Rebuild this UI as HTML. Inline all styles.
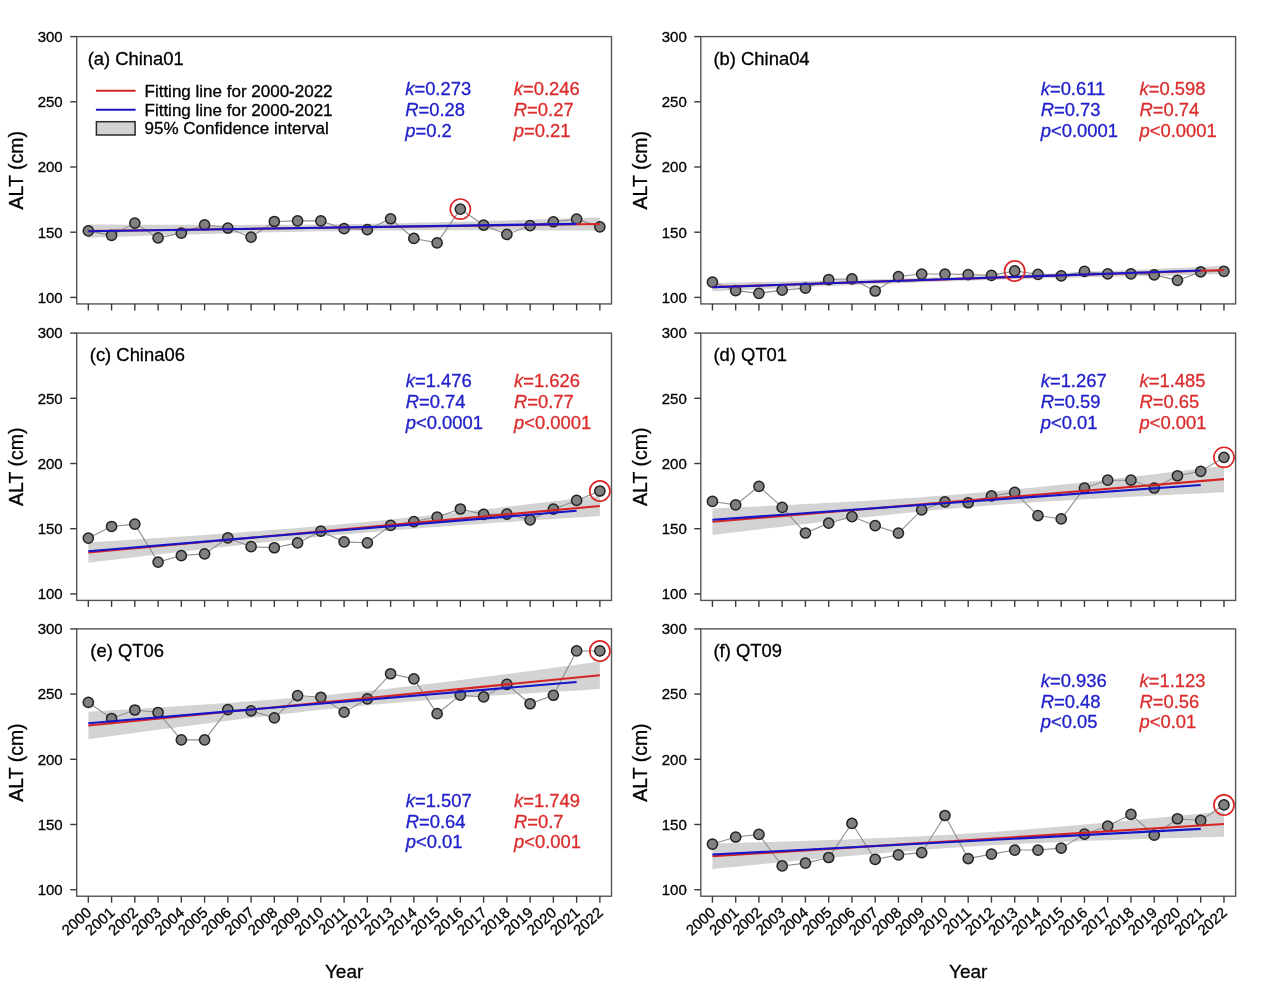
<!DOCTYPE html>
<html><head><meta charset="utf-8"><style>html,body{margin:0;padding:0;background:#fff;width:1269px;height:988px;overflow:hidden}</style></head><body>
<svg width="1269" height="988" viewBox="0 0 1269 988" style="display:block;will-change:transform">
<rect width="1269" height="988" fill="#ffffff"/>
<polygon points="88.33,224.48 99.95,224.54 111.58,224.59 123.20,224.64 134.83,224.69 146.46,224.74 158.08,224.78 169.71,224.81 181.33,224.84 192.96,224.87 204.59,224.88 216.21,224.89 227.84,224.89 239.47,224.88 251.09,224.86 262.72,224.83 274.34,224.78 285.97,224.72 297.60,224.64 309.22,224.55 320.85,224.44 332.47,224.31 344.10,224.16 355.73,223.99 367.35,223.80 378.98,223.60 390.60,223.37 402.23,223.13 413.86,222.87 425.48,222.60 437.11,222.31 448.73,222.02 460.36,221.71 471.99,221.39 483.61,221.06 495.24,220.73 506.87,220.39 518.49,220.04 530.12,219.68 541.74,219.32 553.37,218.96 565.00,218.59 576.62,218.22 588.25,217.85 599.87,217.47 599.87,230.65 588.25,230.59 576.62,230.53 565.00,230.48 553.37,230.43 541.74,230.39 530.12,230.35 518.49,230.31 506.87,230.28 495.24,230.26 483.61,230.24 471.99,230.23 460.36,230.23 448.73,230.24 437.11,230.26 425.48,230.30 413.86,230.34 402.23,230.40 390.60,230.48 378.98,230.57 367.35,230.69 355.73,230.82 344.10,230.97 332.47,231.13 320.85,231.32 309.22,231.53 297.60,231.75 285.97,232.00 274.34,232.25 262.72,232.52 251.09,232.81 239.47,233.11 227.84,233.42 216.21,233.73 204.59,234.06 192.96,234.40 181.33,234.74 169.71,235.09 158.08,235.44 146.46,235.80 134.83,236.16 123.20,236.53 111.58,236.90 99.95,237.28 88.33,237.66" fill="#d3d3d3"/>
<polyline points="88.33,230.90 111.58,235.33 134.83,223.07 158.08,237.94 181.33,233.11 204.59,224.77 227.84,228.03 251.09,237.16 274.34,221.51 297.60,220.86 320.85,220.86 344.10,228.68 367.35,229.72 390.60,218.77 413.86,238.46 437.11,242.89 460.36,209.12 483.61,225.03 506.87,234.42 530.12,225.55 553.37,221.77 576.62,219.16 599.87,226.85" fill="none" stroke="#8e8e8e" stroke-width="1.1"/>
<circle cx="88.33" cy="230.90" r="5.1" fill="#808080" stroke="#222222" stroke-width="1.5"/>
<circle cx="111.58" cy="235.33" r="5.1" fill="#808080" stroke="#222222" stroke-width="1.5"/>
<circle cx="134.83" cy="223.07" r="5.1" fill="#808080" stroke="#222222" stroke-width="1.5"/>
<circle cx="158.08" cy="237.94" r="5.1" fill="#808080" stroke="#222222" stroke-width="1.5"/>
<circle cx="181.33" cy="233.11" r="5.1" fill="#808080" stroke="#222222" stroke-width="1.5"/>
<circle cx="204.59" cy="224.77" r="5.1" fill="#808080" stroke="#222222" stroke-width="1.5"/>
<circle cx="227.84" cy="228.03" r="5.1" fill="#808080" stroke="#222222" stroke-width="1.5"/>
<circle cx="251.09" cy="237.16" r="5.1" fill="#808080" stroke="#222222" stroke-width="1.5"/>
<circle cx="274.34" cy="221.51" r="5.1" fill="#808080" stroke="#222222" stroke-width="1.5"/>
<circle cx="297.60" cy="220.86" r="5.1" fill="#808080" stroke="#222222" stroke-width="1.5"/>
<circle cx="320.85" cy="220.86" r="5.1" fill="#808080" stroke="#222222" stroke-width="1.5"/>
<circle cx="344.10" cy="228.68" r="5.1" fill="#808080" stroke="#222222" stroke-width="1.5"/>
<circle cx="367.35" cy="229.72" r="5.1" fill="#808080" stroke="#222222" stroke-width="1.5"/>
<circle cx="390.60" cy="218.77" r="5.1" fill="#808080" stroke="#222222" stroke-width="1.5"/>
<circle cx="413.86" cy="238.46" r="5.1" fill="#808080" stroke="#222222" stroke-width="1.5"/>
<circle cx="437.11" cy="242.89" r="5.1" fill="#808080" stroke="#222222" stroke-width="1.5"/>
<circle cx="460.36" cy="209.12" r="5.1" fill="#808080" stroke="#222222" stroke-width="1.5"/>
<circle cx="483.61" cy="225.03" r="5.1" fill="#808080" stroke="#222222" stroke-width="1.5"/>
<circle cx="506.87" cy="234.42" r="5.1" fill="#808080" stroke="#222222" stroke-width="1.5"/>
<circle cx="530.12" cy="225.55" r="5.1" fill="#808080" stroke="#222222" stroke-width="1.5"/>
<circle cx="553.37" cy="221.77" r="5.1" fill="#808080" stroke="#222222" stroke-width="1.5"/>
<circle cx="576.62" cy="219.16" r="5.1" fill="#808080" stroke="#222222" stroke-width="1.5"/>
<circle cx="599.87" cy="226.85" r="5.1" fill="#808080" stroke="#222222" stroke-width="1.5"/>
<line x1="88.33" y1="231.07" x2="599.87" y2="224.06" stroke="#d42424" stroke-width="2.1"/>
<line x1="88.33" y1="231.32" x2="576.62" y2="223.87" stroke="#1616c8" stroke-width="2.1"/>
<circle cx="460.36" cy="209.12" r="10.1" fill="none" stroke="#dc2828" stroke-width="1.7"/>
<rect x="76.70" y="36.60" width="534.80" height="267.32" fill="none" stroke="#555555" stroke-width="1.4"/>
<line x1="70.20" y1="297.40" x2="76.70" y2="297.40" stroke="#3a3a3a" stroke-width="1.4"/>
<text x="62.70" y="302.75" font-family="Liberation Sans, sans-serif" stroke-width="0.3" font-size="15" text-anchor="end" fill="#000" stroke="#000">100</text>
<line x1="70.20" y1="232.20" x2="76.70" y2="232.20" stroke="#3a3a3a" stroke-width="1.4"/>
<text x="62.70" y="237.55" font-family="Liberation Sans, sans-serif" stroke-width="0.3" font-size="15" text-anchor="end" fill="#000" stroke="#000">150</text>
<line x1="70.20" y1="167.00" x2="76.70" y2="167.00" stroke="#3a3a3a" stroke-width="1.4"/>
<text x="62.70" y="172.35" font-family="Liberation Sans, sans-serif" stroke-width="0.3" font-size="15" text-anchor="end" fill="#000" stroke="#000">200</text>
<line x1="70.20" y1="101.80" x2="76.70" y2="101.80" stroke="#3a3a3a" stroke-width="1.4"/>
<text x="62.70" y="107.15" font-family="Liberation Sans, sans-serif" stroke-width="0.3" font-size="15" text-anchor="end" fill="#000" stroke="#000">250</text>
<line x1="70.20" y1="36.60" x2="76.70" y2="36.60" stroke="#3a3a3a" stroke-width="1.4"/>
<text x="62.70" y="41.95" font-family="Liberation Sans, sans-serif" stroke-width="0.3" font-size="15" text-anchor="end" fill="#000" stroke="#000">300</text>
<line x1="88.33" y1="303.92" x2="88.33" y2="310.42" stroke="#3a3a3a" stroke-width="1.4"/>
<line x1="111.58" y1="303.92" x2="111.58" y2="310.42" stroke="#3a3a3a" stroke-width="1.4"/>
<line x1="134.83" y1="303.92" x2="134.83" y2="310.42" stroke="#3a3a3a" stroke-width="1.4"/>
<line x1="158.08" y1="303.92" x2="158.08" y2="310.42" stroke="#3a3a3a" stroke-width="1.4"/>
<line x1="181.33" y1="303.92" x2="181.33" y2="310.42" stroke="#3a3a3a" stroke-width="1.4"/>
<line x1="204.59" y1="303.92" x2="204.59" y2="310.42" stroke="#3a3a3a" stroke-width="1.4"/>
<line x1="227.84" y1="303.92" x2="227.84" y2="310.42" stroke="#3a3a3a" stroke-width="1.4"/>
<line x1="251.09" y1="303.92" x2="251.09" y2="310.42" stroke="#3a3a3a" stroke-width="1.4"/>
<line x1="274.34" y1="303.92" x2="274.34" y2="310.42" stroke="#3a3a3a" stroke-width="1.4"/>
<line x1="297.60" y1="303.92" x2="297.60" y2="310.42" stroke="#3a3a3a" stroke-width="1.4"/>
<line x1="320.85" y1="303.92" x2="320.85" y2="310.42" stroke="#3a3a3a" stroke-width="1.4"/>
<line x1="344.10" y1="303.92" x2="344.10" y2="310.42" stroke="#3a3a3a" stroke-width="1.4"/>
<line x1="367.35" y1="303.92" x2="367.35" y2="310.42" stroke="#3a3a3a" stroke-width="1.4"/>
<line x1="390.60" y1="303.92" x2="390.60" y2="310.42" stroke="#3a3a3a" stroke-width="1.4"/>
<line x1="413.86" y1="303.92" x2="413.86" y2="310.42" stroke="#3a3a3a" stroke-width="1.4"/>
<line x1="437.11" y1="303.92" x2="437.11" y2="310.42" stroke="#3a3a3a" stroke-width="1.4"/>
<line x1="460.36" y1="303.92" x2="460.36" y2="310.42" stroke="#3a3a3a" stroke-width="1.4"/>
<line x1="483.61" y1="303.92" x2="483.61" y2="310.42" stroke="#3a3a3a" stroke-width="1.4"/>
<line x1="506.87" y1="303.92" x2="506.87" y2="310.42" stroke="#3a3a3a" stroke-width="1.4"/>
<line x1="530.12" y1="303.92" x2="530.12" y2="310.42" stroke="#3a3a3a" stroke-width="1.4"/>
<line x1="553.37" y1="303.92" x2="553.37" y2="310.42" stroke="#3a3a3a" stroke-width="1.4"/>
<line x1="576.62" y1="303.92" x2="576.62" y2="310.42" stroke="#3a3a3a" stroke-width="1.4"/>
<line x1="599.87" y1="303.92" x2="599.87" y2="310.42" stroke="#3a3a3a" stroke-width="1.4"/>
<text x="87.70" y="64.80" font-family="Liberation Sans, sans-serif" stroke-width="0.3" font-size="18.4" fill="#000" stroke="#000">(a) China01</text>
<text transform="translate(22.80,170.26) rotate(-90)" font-family="Liberation Sans, sans-serif" stroke-width="0.3" font-size="19.5" text-anchor="middle" fill="#000" stroke="#000">ALT (cm)</text>
<text x="405.20" y="95.10" font-family="Liberation Sans, sans-serif" stroke-width="0.3" font-size="18.4" fill="#2020cc" stroke="#2020cc"><tspan font-style="italic">k</tspan>=0.273</text>
<text x="405.20" y="116.00" font-family="Liberation Sans, sans-serif" stroke-width="0.3" font-size="18.4" fill="#2020cc" stroke="#2020cc"><tspan font-style="italic">R</tspan>=0.28</text>
<text x="405.20" y="136.70" font-family="Liberation Sans, sans-serif" stroke-width="0.3" font-size="18.4" fill="#2020cc" stroke="#2020cc"><tspan font-style="italic">p</tspan>=0.2</text>
<text x="513.80" y="95.10" font-family="Liberation Sans, sans-serif" stroke-width="0.3" font-size="18.4" fill="#dc2c2c" stroke="#dc2c2c"><tspan font-style="italic">k</tspan>=0.246</text>
<text x="513.80" y="116.00" font-family="Liberation Sans, sans-serif" stroke-width="0.3" font-size="18.4" fill="#dc2c2c" stroke="#dc2c2c"><tspan font-style="italic">R</tspan>=0.27</text>
<text x="513.80" y="136.70" font-family="Liberation Sans, sans-serif" stroke-width="0.3" font-size="18.4" fill="#dc2c2c" stroke="#dc2c2c"><tspan font-style="italic">p</tspan>=0.21</text>
<polygon points="712.43,283.02 724.05,282.77 735.68,282.51 747.30,282.26 758.93,282.00 770.56,281.73 782.18,281.47 793.81,281.20 805.43,280.93 817.06,280.65 828.69,280.37 840.31,280.09 851.94,279.80 863.57,279.50 875.19,279.20 886.82,278.89 898.44,278.57 910.07,278.24 921.70,277.90 933.32,277.55 944.95,277.19 956.57,276.82 968.20,276.44 979.83,276.04 991.45,275.63 1003.08,275.21 1014.70,274.78 1026.33,274.34 1037.96,273.89 1049.58,273.43 1061.21,272.96 1072.83,272.49 1084.46,272.00 1096.09,271.51 1107.71,271.02 1119.34,270.52 1130.97,270.01 1142.59,269.51 1154.22,268.99 1165.84,268.48 1177.47,267.96 1189.10,267.44 1200.72,266.92 1212.35,266.39 1223.97,265.87 1223.97,274.11 1212.35,274.36 1200.72,274.62 1189.10,274.88 1177.47,275.14 1165.84,275.40 1154.22,275.66 1142.59,275.93 1130.97,276.20 1119.34,276.48 1107.71,276.76 1096.09,277.04 1084.46,277.33 1072.83,277.63 1061.21,277.93 1049.58,278.24 1037.96,278.56 1026.33,278.89 1014.70,279.23 1003.08,279.58 991.45,279.94 979.83,280.31 968.20,280.69 956.57,281.09 944.95,281.50 933.32,281.92 921.70,282.35 910.07,282.79 898.44,283.24 886.82,283.70 875.19,284.17 863.57,284.65 851.94,285.13 840.31,285.62 828.69,286.11 817.06,286.61 805.43,287.12 793.81,287.63 782.18,288.14 770.56,288.65 758.93,289.17 747.30,289.69 735.68,290.21 724.05,290.74 712.43,291.26" fill="#d3d3d3"/>
<polyline points="712.43,282.14 735.68,290.62 758.93,293.36 782.18,290.10 805.43,288.14 828.69,279.54 851.94,278.88 875.19,291.01 898.44,276.54 921.70,274.06 944.95,274.06 968.20,274.58 991.45,275.36 1014.70,270.93 1037.96,274.32 1061.21,275.88 1084.46,271.45 1107.71,273.80 1130.97,273.80 1154.22,274.84 1177.47,280.32 1200.72,271.97 1223.97,271.32" fill="none" stroke="#8e8e8e" stroke-width="1.1"/>
<circle cx="712.43" cy="282.14" r="5.1" fill="#808080" stroke="#222222" stroke-width="1.5"/>
<circle cx="735.68" cy="290.62" r="5.1" fill="#808080" stroke="#222222" stroke-width="1.5"/>
<circle cx="758.93" cy="293.36" r="5.1" fill="#808080" stroke="#222222" stroke-width="1.5"/>
<circle cx="782.18" cy="290.10" r="5.1" fill="#808080" stroke="#222222" stroke-width="1.5"/>
<circle cx="805.43" cy="288.14" r="5.1" fill="#808080" stroke="#222222" stroke-width="1.5"/>
<circle cx="828.69" cy="279.54" r="5.1" fill="#808080" stroke="#222222" stroke-width="1.5"/>
<circle cx="851.94" cy="278.88" r="5.1" fill="#808080" stroke="#222222" stroke-width="1.5"/>
<circle cx="875.19" cy="291.01" r="5.1" fill="#808080" stroke="#222222" stroke-width="1.5"/>
<circle cx="898.44" cy="276.54" r="5.1" fill="#808080" stroke="#222222" stroke-width="1.5"/>
<circle cx="921.70" cy="274.06" r="5.1" fill="#808080" stroke="#222222" stroke-width="1.5"/>
<circle cx="944.95" cy="274.06" r="5.1" fill="#808080" stroke="#222222" stroke-width="1.5"/>
<circle cx="968.20" cy="274.58" r="5.1" fill="#808080" stroke="#222222" stroke-width="1.5"/>
<circle cx="991.45" cy="275.36" r="5.1" fill="#808080" stroke="#222222" stroke-width="1.5"/>
<circle cx="1014.70" cy="270.93" r="5.1" fill="#808080" stroke="#222222" stroke-width="1.5"/>
<circle cx="1037.96" cy="274.32" r="5.1" fill="#808080" stroke="#222222" stroke-width="1.5"/>
<circle cx="1061.21" cy="275.88" r="5.1" fill="#808080" stroke="#222222" stroke-width="1.5"/>
<circle cx="1084.46" cy="271.45" r="5.1" fill="#808080" stroke="#222222" stroke-width="1.5"/>
<circle cx="1107.71" cy="273.80" r="5.1" fill="#808080" stroke="#222222" stroke-width="1.5"/>
<circle cx="1130.97" cy="273.80" r="5.1" fill="#808080" stroke="#222222" stroke-width="1.5"/>
<circle cx="1154.22" cy="274.84" r="5.1" fill="#808080" stroke="#222222" stroke-width="1.5"/>
<circle cx="1177.47" cy="280.32" r="5.1" fill="#808080" stroke="#222222" stroke-width="1.5"/>
<circle cx="1200.72" cy="271.97" r="5.1" fill="#808080" stroke="#222222" stroke-width="1.5"/>
<circle cx="1223.97" cy="271.32" r="5.1" fill="#808080" stroke="#222222" stroke-width="1.5"/>
<line x1="712.43" y1="287.14" x2="1223.97" y2="269.99" stroke="#d42424" stroke-width="2.1"/>
<line x1="712.43" y1="287.26" x2="1200.72" y2="270.53" stroke="#1616c8" stroke-width="2.1"/>
<circle cx="1014.70" cy="270.93" r="10.1" fill="none" stroke="#dc2828" stroke-width="1.7"/>
<rect x="700.80" y="36.60" width="534.80" height="267.32" fill="none" stroke="#555555" stroke-width="1.4"/>
<line x1="694.30" y1="297.40" x2="700.80" y2="297.40" stroke="#3a3a3a" stroke-width="1.4"/>
<text x="686.80" y="302.75" font-family="Liberation Sans, sans-serif" stroke-width="0.3" font-size="15" text-anchor="end" fill="#000" stroke="#000">100</text>
<line x1="694.30" y1="232.20" x2="700.80" y2="232.20" stroke="#3a3a3a" stroke-width="1.4"/>
<text x="686.80" y="237.55" font-family="Liberation Sans, sans-serif" stroke-width="0.3" font-size="15" text-anchor="end" fill="#000" stroke="#000">150</text>
<line x1="694.30" y1="167.00" x2="700.80" y2="167.00" stroke="#3a3a3a" stroke-width="1.4"/>
<text x="686.80" y="172.35" font-family="Liberation Sans, sans-serif" stroke-width="0.3" font-size="15" text-anchor="end" fill="#000" stroke="#000">200</text>
<line x1="694.30" y1="101.80" x2="700.80" y2="101.80" stroke="#3a3a3a" stroke-width="1.4"/>
<text x="686.80" y="107.15" font-family="Liberation Sans, sans-serif" stroke-width="0.3" font-size="15" text-anchor="end" fill="#000" stroke="#000">250</text>
<line x1="694.30" y1="36.60" x2="700.80" y2="36.60" stroke="#3a3a3a" stroke-width="1.4"/>
<text x="686.80" y="41.95" font-family="Liberation Sans, sans-serif" stroke-width="0.3" font-size="15" text-anchor="end" fill="#000" stroke="#000">300</text>
<line x1="712.43" y1="303.92" x2="712.43" y2="310.42" stroke="#3a3a3a" stroke-width="1.4"/>
<line x1="735.68" y1="303.92" x2="735.68" y2="310.42" stroke="#3a3a3a" stroke-width="1.4"/>
<line x1="758.93" y1="303.92" x2="758.93" y2="310.42" stroke="#3a3a3a" stroke-width="1.4"/>
<line x1="782.18" y1="303.92" x2="782.18" y2="310.42" stroke="#3a3a3a" stroke-width="1.4"/>
<line x1="805.43" y1="303.92" x2="805.43" y2="310.42" stroke="#3a3a3a" stroke-width="1.4"/>
<line x1="828.69" y1="303.92" x2="828.69" y2="310.42" stroke="#3a3a3a" stroke-width="1.4"/>
<line x1="851.94" y1="303.92" x2="851.94" y2="310.42" stroke="#3a3a3a" stroke-width="1.4"/>
<line x1="875.19" y1="303.92" x2="875.19" y2="310.42" stroke="#3a3a3a" stroke-width="1.4"/>
<line x1="898.44" y1="303.92" x2="898.44" y2="310.42" stroke="#3a3a3a" stroke-width="1.4"/>
<line x1="921.70" y1="303.92" x2="921.70" y2="310.42" stroke="#3a3a3a" stroke-width="1.4"/>
<line x1="944.95" y1="303.92" x2="944.95" y2="310.42" stroke="#3a3a3a" stroke-width="1.4"/>
<line x1="968.20" y1="303.92" x2="968.20" y2="310.42" stroke="#3a3a3a" stroke-width="1.4"/>
<line x1="991.45" y1="303.92" x2="991.45" y2="310.42" stroke="#3a3a3a" stroke-width="1.4"/>
<line x1="1014.70" y1="303.92" x2="1014.70" y2="310.42" stroke="#3a3a3a" stroke-width="1.4"/>
<line x1="1037.96" y1="303.92" x2="1037.96" y2="310.42" stroke="#3a3a3a" stroke-width="1.4"/>
<line x1="1061.21" y1="303.92" x2="1061.21" y2="310.42" stroke="#3a3a3a" stroke-width="1.4"/>
<line x1="1084.46" y1="303.92" x2="1084.46" y2="310.42" stroke="#3a3a3a" stroke-width="1.4"/>
<line x1="1107.71" y1="303.92" x2="1107.71" y2="310.42" stroke="#3a3a3a" stroke-width="1.4"/>
<line x1="1130.97" y1="303.92" x2="1130.97" y2="310.42" stroke="#3a3a3a" stroke-width="1.4"/>
<line x1="1154.22" y1="303.92" x2="1154.22" y2="310.42" stroke="#3a3a3a" stroke-width="1.4"/>
<line x1="1177.47" y1="303.92" x2="1177.47" y2="310.42" stroke="#3a3a3a" stroke-width="1.4"/>
<line x1="1200.72" y1="303.92" x2="1200.72" y2="310.42" stroke="#3a3a3a" stroke-width="1.4"/>
<line x1="1223.97" y1="303.92" x2="1223.97" y2="310.42" stroke="#3a3a3a" stroke-width="1.4"/>
<text x="713.50" y="64.80" font-family="Liberation Sans, sans-serif" stroke-width="0.3" font-size="18.4" fill="#000" stroke="#000">(b) China04</text>
<text transform="translate(646.90,170.26) rotate(-90)" font-family="Liberation Sans, sans-serif" stroke-width="0.3" font-size="19.5" text-anchor="middle" fill="#000" stroke="#000">ALT (cm)</text>
<text x="1040.70" y="95.00" font-family="Liberation Sans, sans-serif" stroke-width="0.3" font-size="18.4" fill="#2020cc" stroke="#2020cc"><tspan font-style="italic">k</tspan>=0.611</text>
<text x="1040.70" y="115.90" font-family="Liberation Sans, sans-serif" stroke-width="0.3" font-size="18.4" fill="#2020cc" stroke="#2020cc"><tspan font-style="italic">R</tspan>=0.73</text>
<text x="1040.70" y="136.60" font-family="Liberation Sans, sans-serif" stroke-width="0.3" font-size="18.4" fill="#2020cc" stroke="#2020cc"><tspan font-style="italic">p</tspan>&lt;0.0001</text>
<text x="1139.50" y="95.00" font-family="Liberation Sans, sans-serif" stroke-width="0.3" font-size="18.4" fill="#dc2c2c" stroke="#dc2c2c"><tspan font-style="italic">k</tspan>=0.598</text>
<text x="1139.50" y="115.90" font-family="Liberation Sans, sans-serif" stroke-width="0.3" font-size="18.4" fill="#dc2c2c" stroke="#dc2c2c"><tspan font-style="italic">R</tspan>=0.74</text>
<text x="1139.50" y="136.60" font-family="Liberation Sans, sans-serif" stroke-width="0.3" font-size="18.4" fill="#dc2c2c" stroke="#dc2c2c"><tspan font-style="italic">p</tspan>&lt;0.0001</text>
<polygon points="88.33,542.41 99.95,541.69 111.58,540.96 123.20,540.23 134.83,539.49 146.46,538.75 158.08,537.99 169.71,537.24 181.33,536.47 192.96,535.69 204.59,534.90 216.21,534.10 227.84,533.29 239.47,532.46 251.09,531.61 262.72,530.75 274.34,529.87 285.97,528.96 297.60,528.03 309.22,527.07 320.85,526.08 332.47,525.07 344.10,524.02 355.73,522.95 367.35,521.85 378.98,520.71 390.60,519.55 402.23,518.37 413.86,517.16 425.48,515.92 437.11,514.67 448.73,513.40 460.36,512.11 471.99,510.81 483.61,509.49 495.24,508.16 506.87,506.82 518.49,505.47 530.12,504.11 541.74,502.74 553.37,501.37 565.00,499.99 576.62,498.60 588.25,497.21 599.87,495.81 599.87,516.12 588.25,516.85 576.62,517.57 565.00,518.31 553.37,519.04 541.74,519.79 530.12,520.54 518.49,521.30 506.87,522.07 495.24,522.84 483.61,523.63 471.99,524.43 460.36,525.24 448.73,526.07 437.11,526.92 425.48,527.78 413.86,528.67 402.23,529.58 390.60,530.51 378.98,531.47 367.35,532.45 355.73,533.47 344.10,534.51 332.47,535.59 320.85,536.69 309.22,537.82 297.60,538.98 285.97,540.17 274.34,541.38 262.72,542.61 251.09,543.86 239.47,545.13 227.84,546.42 216.21,547.73 204.59,549.05 192.96,550.38 181.33,551.72 169.71,553.07 158.08,554.43 146.46,555.79 134.83,557.17 123.20,558.55 111.58,559.93 99.95,561.32 88.33,562.72" fill="#d3d3d3"/>
<polyline points="88.33,538.09 111.58,526.48 134.83,524.14 158.08,562.08 181.33,555.56 204.59,553.87 227.84,537.83 251.09,546.70 274.34,547.74 297.60,542.91 320.85,531.18 344.10,541.87 367.35,542.78 390.60,525.44 413.86,521.53 437.11,517.09 460.36,509.01 483.61,514.36 506.87,514.10 530.12,519.83 553.37,509.14 576.62,500.40 599.87,491.01" fill="none" stroke="#8e8e8e" stroke-width="1.1"/>
<circle cx="88.33" cy="538.09" r="5.1" fill="#808080" stroke="#222222" stroke-width="1.5"/>
<circle cx="111.58" cy="526.48" r="5.1" fill="#808080" stroke="#222222" stroke-width="1.5"/>
<circle cx="134.83" cy="524.14" r="5.1" fill="#808080" stroke="#222222" stroke-width="1.5"/>
<circle cx="158.08" cy="562.08" r="5.1" fill="#808080" stroke="#222222" stroke-width="1.5"/>
<circle cx="181.33" cy="555.56" r="5.1" fill="#808080" stroke="#222222" stroke-width="1.5"/>
<circle cx="204.59" cy="553.87" r="5.1" fill="#808080" stroke="#222222" stroke-width="1.5"/>
<circle cx="227.84" cy="537.83" r="5.1" fill="#808080" stroke="#222222" stroke-width="1.5"/>
<circle cx="251.09" cy="546.70" r="5.1" fill="#808080" stroke="#222222" stroke-width="1.5"/>
<circle cx="274.34" cy="547.74" r="5.1" fill="#808080" stroke="#222222" stroke-width="1.5"/>
<circle cx="297.60" cy="542.91" r="5.1" fill="#808080" stroke="#222222" stroke-width="1.5"/>
<circle cx="320.85" cy="531.18" r="5.1" fill="#808080" stroke="#222222" stroke-width="1.5"/>
<circle cx="344.10" cy="541.87" r="5.1" fill="#808080" stroke="#222222" stroke-width="1.5"/>
<circle cx="367.35" cy="542.78" r="5.1" fill="#808080" stroke="#222222" stroke-width="1.5"/>
<circle cx="390.60" cy="525.44" r="5.1" fill="#808080" stroke="#222222" stroke-width="1.5"/>
<circle cx="413.86" cy="521.53" r="5.1" fill="#808080" stroke="#222222" stroke-width="1.5"/>
<circle cx="437.11" cy="517.09" r="5.1" fill="#808080" stroke="#222222" stroke-width="1.5"/>
<circle cx="460.36" cy="509.01" r="5.1" fill="#808080" stroke="#222222" stroke-width="1.5"/>
<circle cx="483.61" cy="514.36" r="5.1" fill="#808080" stroke="#222222" stroke-width="1.5"/>
<circle cx="506.87" cy="514.10" r="5.1" fill="#808080" stroke="#222222" stroke-width="1.5"/>
<circle cx="530.12" cy="519.83" r="5.1" fill="#808080" stroke="#222222" stroke-width="1.5"/>
<circle cx="553.37" cy="509.14" r="5.1" fill="#808080" stroke="#222222" stroke-width="1.5"/>
<circle cx="576.62" cy="500.40" r="5.1" fill="#808080" stroke="#222222" stroke-width="1.5"/>
<circle cx="599.87" cy="491.01" r="5.1" fill="#808080" stroke="#222222" stroke-width="1.5"/>
<line x1="88.33" y1="552.56" x2="599.87" y2="505.97" stroke="#d42424" stroke-width="2.1"/>
<line x1="88.33" y1="551.21" x2="576.62" y2="510.81" stroke="#1616c8" stroke-width="2.1"/>
<circle cx="599.87" cy="491.01" r="10.1" fill="none" stroke="#dc2828" stroke-width="1.7"/>
<rect x="76.70" y="333.10" width="534.80" height="267.32" fill="none" stroke="#555555" stroke-width="1.4"/>
<line x1="70.20" y1="593.90" x2="76.70" y2="593.90" stroke="#3a3a3a" stroke-width="1.4"/>
<text x="62.70" y="599.25" font-family="Liberation Sans, sans-serif" stroke-width="0.3" font-size="15" text-anchor="end" fill="#000" stroke="#000">100</text>
<line x1="70.20" y1="528.70" x2="76.70" y2="528.70" stroke="#3a3a3a" stroke-width="1.4"/>
<text x="62.70" y="534.05" font-family="Liberation Sans, sans-serif" stroke-width="0.3" font-size="15" text-anchor="end" fill="#000" stroke="#000">150</text>
<line x1="70.20" y1="463.50" x2="76.70" y2="463.50" stroke="#3a3a3a" stroke-width="1.4"/>
<text x="62.70" y="468.85" font-family="Liberation Sans, sans-serif" stroke-width="0.3" font-size="15" text-anchor="end" fill="#000" stroke="#000">200</text>
<line x1="70.20" y1="398.30" x2="76.70" y2="398.30" stroke="#3a3a3a" stroke-width="1.4"/>
<text x="62.70" y="403.65" font-family="Liberation Sans, sans-serif" stroke-width="0.3" font-size="15" text-anchor="end" fill="#000" stroke="#000">250</text>
<line x1="70.20" y1="333.10" x2="76.70" y2="333.10" stroke="#3a3a3a" stroke-width="1.4"/>
<text x="62.70" y="338.45" font-family="Liberation Sans, sans-serif" stroke-width="0.3" font-size="15" text-anchor="end" fill="#000" stroke="#000">300</text>
<line x1="88.33" y1="600.42" x2="88.33" y2="606.92" stroke="#3a3a3a" stroke-width="1.4"/>
<line x1="111.58" y1="600.42" x2="111.58" y2="606.92" stroke="#3a3a3a" stroke-width="1.4"/>
<line x1="134.83" y1="600.42" x2="134.83" y2="606.92" stroke="#3a3a3a" stroke-width="1.4"/>
<line x1="158.08" y1="600.42" x2="158.08" y2="606.92" stroke="#3a3a3a" stroke-width="1.4"/>
<line x1="181.33" y1="600.42" x2="181.33" y2="606.92" stroke="#3a3a3a" stroke-width="1.4"/>
<line x1="204.59" y1="600.42" x2="204.59" y2="606.92" stroke="#3a3a3a" stroke-width="1.4"/>
<line x1="227.84" y1="600.42" x2="227.84" y2="606.92" stroke="#3a3a3a" stroke-width="1.4"/>
<line x1="251.09" y1="600.42" x2="251.09" y2="606.92" stroke="#3a3a3a" stroke-width="1.4"/>
<line x1="274.34" y1="600.42" x2="274.34" y2="606.92" stroke="#3a3a3a" stroke-width="1.4"/>
<line x1="297.60" y1="600.42" x2="297.60" y2="606.92" stroke="#3a3a3a" stroke-width="1.4"/>
<line x1="320.85" y1="600.42" x2="320.85" y2="606.92" stroke="#3a3a3a" stroke-width="1.4"/>
<line x1="344.10" y1="600.42" x2="344.10" y2="606.92" stroke="#3a3a3a" stroke-width="1.4"/>
<line x1="367.35" y1="600.42" x2="367.35" y2="606.92" stroke="#3a3a3a" stroke-width="1.4"/>
<line x1="390.60" y1="600.42" x2="390.60" y2="606.92" stroke="#3a3a3a" stroke-width="1.4"/>
<line x1="413.86" y1="600.42" x2="413.86" y2="606.92" stroke="#3a3a3a" stroke-width="1.4"/>
<line x1="437.11" y1="600.42" x2="437.11" y2="606.92" stroke="#3a3a3a" stroke-width="1.4"/>
<line x1="460.36" y1="600.42" x2="460.36" y2="606.92" stroke="#3a3a3a" stroke-width="1.4"/>
<line x1="483.61" y1="600.42" x2="483.61" y2="606.92" stroke="#3a3a3a" stroke-width="1.4"/>
<line x1="506.87" y1="600.42" x2="506.87" y2="606.92" stroke="#3a3a3a" stroke-width="1.4"/>
<line x1="530.12" y1="600.42" x2="530.12" y2="606.92" stroke="#3a3a3a" stroke-width="1.4"/>
<line x1="553.37" y1="600.42" x2="553.37" y2="606.92" stroke="#3a3a3a" stroke-width="1.4"/>
<line x1="576.62" y1="600.42" x2="576.62" y2="606.92" stroke="#3a3a3a" stroke-width="1.4"/>
<line x1="599.87" y1="600.42" x2="599.87" y2="606.92" stroke="#3a3a3a" stroke-width="1.4"/>
<text x="89.80" y="361.30" font-family="Liberation Sans, sans-serif" stroke-width="0.3" font-size="18.4" fill="#000" stroke="#000">(c) China06</text>
<text transform="translate(22.80,466.76) rotate(-90)" font-family="Liberation Sans, sans-serif" stroke-width="0.3" font-size="19.5" text-anchor="middle" fill="#000" stroke="#000">ALT (cm)</text>
<text x="405.70" y="386.90" font-family="Liberation Sans, sans-serif" stroke-width="0.3" font-size="18.4" fill="#2020cc" stroke="#2020cc"><tspan font-style="italic">k</tspan>=1.476</text>
<text x="405.70" y="407.80" font-family="Liberation Sans, sans-serif" stroke-width="0.3" font-size="18.4" fill="#2020cc" stroke="#2020cc"><tspan font-style="italic">R</tspan>=0.74</text>
<text x="405.70" y="428.50" font-family="Liberation Sans, sans-serif" stroke-width="0.3" font-size="18.4" fill="#2020cc" stroke="#2020cc"><tspan font-style="italic">p</tspan>&lt;0.0001</text>
<text x="514.00" y="386.90" font-family="Liberation Sans, sans-serif" stroke-width="0.3" font-size="18.4" fill="#dc2c2c" stroke="#dc2c2c"><tspan font-style="italic">k</tspan>=1.626</text>
<text x="514.00" y="407.80" font-family="Liberation Sans, sans-serif" stroke-width="0.3" font-size="18.4" fill="#dc2c2c" stroke="#dc2c2c"><tspan font-style="italic">R</tspan>=0.77</text>
<text x="514.00" y="428.50" font-family="Liberation Sans, sans-serif" stroke-width="0.3" font-size="18.4" fill="#dc2c2c" stroke="#dc2c2c"><tspan font-style="italic">p</tspan>&lt;0.0001</text>
<polygon points="712.43,508.55 724.05,508.01 735.68,507.48 747.30,506.93 758.93,506.38 770.56,505.82 782.18,505.25 793.81,504.68 805.43,504.09 817.06,503.48 828.69,502.87 840.31,502.23 851.94,501.58 863.57,500.91 875.19,500.22 886.82,499.51 898.44,498.76 910.07,497.99 921.70,497.19 933.32,496.35 944.95,495.47 956.57,494.56 968.20,493.61 979.83,492.62 991.45,491.60 1003.08,490.53 1014.70,489.43 1026.33,488.30 1037.96,487.13 1049.58,485.93 1061.21,484.71 1072.83,483.47 1084.46,482.20 1096.09,480.91 1107.71,479.60 1119.34,478.28 1130.97,476.94 1142.59,475.59 1154.22,474.23 1165.84,472.86 1177.47,471.48 1189.10,470.10 1200.72,468.70 1212.35,467.30 1223.97,465.89 1223.97,492.33 1212.35,492.86 1200.72,493.40 1189.10,493.94 1177.47,494.49 1165.84,495.05 1154.22,495.62 1142.59,496.20 1130.97,496.79 1119.34,497.39 1107.71,498.01 1096.09,498.64 1084.46,499.29 1072.83,499.96 1061.21,500.65 1049.58,501.37 1037.96,502.11 1026.33,502.88 1014.70,503.69 1003.08,504.53 991.45,505.40 979.83,506.31 968.20,507.26 956.57,508.25 944.95,509.28 933.32,510.34 921.70,511.44 910.07,512.58 898.44,513.74 886.82,514.94 875.19,516.16 863.57,517.41 851.94,518.68 840.31,519.97 828.69,521.27 817.06,522.60 805.43,523.93 793.81,525.28 782.18,526.64 770.56,528.01 758.93,529.39 747.30,530.78 735.68,532.17 724.05,533.57 712.43,534.98" fill="#d3d3d3"/>
<polyline points="712.43,501.45 735.68,504.84 758.93,486.32 782.18,507.44 805.43,533.00 828.69,523.22 851.94,516.57 875.19,525.70 898.44,533.13 921.70,509.92 944.95,501.97 968.20,502.75 991.45,495.97 1014.70,492.45 1037.96,515.53 1061.21,518.92 1084.46,488.02 1107.71,480.19 1130.97,480.19 1154.22,488.02 1177.47,475.76 1200.72,471.32 1223.97,457.37" fill="none" stroke="#8e8e8e" stroke-width="1.1"/>
<circle cx="712.43" cy="501.45" r="5.1" fill="#808080" stroke="#222222" stroke-width="1.5"/>
<circle cx="735.68" cy="504.84" r="5.1" fill="#808080" stroke="#222222" stroke-width="1.5"/>
<circle cx="758.93" cy="486.32" r="5.1" fill="#808080" stroke="#222222" stroke-width="1.5"/>
<circle cx="782.18" cy="507.44" r="5.1" fill="#808080" stroke="#222222" stroke-width="1.5"/>
<circle cx="805.43" cy="533.00" r="5.1" fill="#808080" stroke="#222222" stroke-width="1.5"/>
<circle cx="828.69" cy="523.22" r="5.1" fill="#808080" stroke="#222222" stroke-width="1.5"/>
<circle cx="851.94" cy="516.57" r="5.1" fill="#808080" stroke="#222222" stroke-width="1.5"/>
<circle cx="875.19" cy="525.70" r="5.1" fill="#808080" stroke="#222222" stroke-width="1.5"/>
<circle cx="898.44" cy="533.13" r="5.1" fill="#808080" stroke="#222222" stroke-width="1.5"/>
<circle cx="921.70" cy="509.92" r="5.1" fill="#808080" stroke="#222222" stroke-width="1.5"/>
<circle cx="944.95" cy="501.97" r="5.1" fill="#808080" stroke="#222222" stroke-width="1.5"/>
<circle cx="968.20" cy="502.75" r="5.1" fill="#808080" stroke="#222222" stroke-width="1.5"/>
<circle cx="991.45" cy="495.97" r="5.1" fill="#808080" stroke="#222222" stroke-width="1.5"/>
<circle cx="1014.70" cy="492.45" r="5.1" fill="#808080" stroke="#222222" stroke-width="1.5"/>
<circle cx="1037.96" cy="515.53" r="5.1" fill="#808080" stroke="#222222" stroke-width="1.5"/>
<circle cx="1061.21" cy="518.92" r="5.1" fill="#808080" stroke="#222222" stroke-width="1.5"/>
<circle cx="1084.46" cy="488.02" r="5.1" fill="#808080" stroke="#222222" stroke-width="1.5"/>
<circle cx="1107.71" cy="480.19" r="5.1" fill="#808080" stroke="#222222" stroke-width="1.5"/>
<circle cx="1130.97" cy="480.19" r="5.1" fill="#808080" stroke="#222222" stroke-width="1.5"/>
<circle cx="1154.22" cy="488.02" r="5.1" fill="#808080" stroke="#222222" stroke-width="1.5"/>
<circle cx="1177.47" cy="475.76" r="5.1" fill="#808080" stroke="#222222" stroke-width="1.5"/>
<circle cx="1200.72" cy="471.32" r="5.1" fill="#808080" stroke="#222222" stroke-width="1.5"/>
<circle cx="1223.97" cy="457.37" r="5.1" fill="#808080" stroke="#222222" stroke-width="1.5"/>
<line x1="712.43" y1="521.76" x2="1223.97" y2="479.11" stroke="#d42424" stroke-width="2.1"/>
<line x1="712.43" y1="519.79" x2="1200.72" y2="485.00" stroke="#1616c8" stroke-width="2.1"/>
<circle cx="1223.97" cy="457.37" r="10.1" fill="none" stroke="#dc2828" stroke-width="1.7"/>
<rect x="700.80" y="333.10" width="534.80" height="267.32" fill="none" stroke="#555555" stroke-width="1.4"/>
<line x1="694.30" y1="593.90" x2="700.80" y2="593.90" stroke="#3a3a3a" stroke-width="1.4"/>
<text x="686.80" y="599.25" font-family="Liberation Sans, sans-serif" stroke-width="0.3" font-size="15" text-anchor="end" fill="#000" stroke="#000">100</text>
<line x1="694.30" y1="528.70" x2="700.80" y2="528.70" stroke="#3a3a3a" stroke-width="1.4"/>
<text x="686.80" y="534.05" font-family="Liberation Sans, sans-serif" stroke-width="0.3" font-size="15" text-anchor="end" fill="#000" stroke="#000">150</text>
<line x1="694.30" y1="463.50" x2="700.80" y2="463.50" stroke="#3a3a3a" stroke-width="1.4"/>
<text x="686.80" y="468.85" font-family="Liberation Sans, sans-serif" stroke-width="0.3" font-size="15" text-anchor="end" fill="#000" stroke="#000">200</text>
<line x1="694.30" y1="398.30" x2="700.80" y2="398.30" stroke="#3a3a3a" stroke-width="1.4"/>
<text x="686.80" y="403.65" font-family="Liberation Sans, sans-serif" stroke-width="0.3" font-size="15" text-anchor="end" fill="#000" stroke="#000">250</text>
<line x1="694.30" y1="333.10" x2="700.80" y2="333.10" stroke="#3a3a3a" stroke-width="1.4"/>
<text x="686.80" y="338.45" font-family="Liberation Sans, sans-serif" stroke-width="0.3" font-size="15" text-anchor="end" fill="#000" stroke="#000">300</text>
<line x1="712.43" y1="600.42" x2="712.43" y2="606.92" stroke="#3a3a3a" stroke-width="1.4"/>
<line x1="735.68" y1="600.42" x2="735.68" y2="606.92" stroke="#3a3a3a" stroke-width="1.4"/>
<line x1="758.93" y1="600.42" x2="758.93" y2="606.92" stroke="#3a3a3a" stroke-width="1.4"/>
<line x1="782.18" y1="600.42" x2="782.18" y2="606.92" stroke="#3a3a3a" stroke-width="1.4"/>
<line x1="805.43" y1="600.42" x2="805.43" y2="606.92" stroke="#3a3a3a" stroke-width="1.4"/>
<line x1="828.69" y1="600.42" x2="828.69" y2="606.92" stroke="#3a3a3a" stroke-width="1.4"/>
<line x1="851.94" y1="600.42" x2="851.94" y2="606.92" stroke="#3a3a3a" stroke-width="1.4"/>
<line x1="875.19" y1="600.42" x2="875.19" y2="606.92" stroke="#3a3a3a" stroke-width="1.4"/>
<line x1="898.44" y1="600.42" x2="898.44" y2="606.92" stroke="#3a3a3a" stroke-width="1.4"/>
<line x1="921.70" y1="600.42" x2="921.70" y2="606.92" stroke="#3a3a3a" stroke-width="1.4"/>
<line x1="944.95" y1="600.42" x2="944.95" y2="606.92" stroke="#3a3a3a" stroke-width="1.4"/>
<line x1="968.20" y1="600.42" x2="968.20" y2="606.92" stroke="#3a3a3a" stroke-width="1.4"/>
<line x1="991.45" y1="600.42" x2="991.45" y2="606.92" stroke="#3a3a3a" stroke-width="1.4"/>
<line x1="1014.70" y1="600.42" x2="1014.70" y2="606.92" stroke="#3a3a3a" stroke-width="1.4"/>
<line x1="1037.96" y1="600.42" x2="1037.96" y2="606.92" stroke="#3a3a3a" stroke-width="1.4"/>
<line x1="1061.21" y1="600.42" x2="1061.21" y2="606.92" stroke="#3a3a3a" stroke-width="1.4"/>
<line x1="1084.46" y1="600.42" x2="1084.46" y2="606.92" stroke="#3a3a3a" stroke-width="1.4"/>
<line x1="1107.71" y1="600.42" x2="1107.71" y2="606.92" stroke="#3a3a3a" stroke-width="1.4"/>
<line x1="1130.97" y1="600.42" x2="1130.97" y2="606.92" stroke="#3a3a3a" stroke-width="1.4"/>
<line x1="1154.22" y1="600.42" x2="1154.22" y2="606.92" stroke="#3a3a3a" stroke-width="1.4"/>
<line x1="1177.47" y1="600.42" x2="1177.47" y2="606.92" stroke="#3a3a3a" stroke-width="1.4"/>
<line x1="1200.72" y1="600.42" x2="1200.72" y2="606.92" stroke="#3a3a3a" stroke-width="1.4"/>
<line x1="1223.97" y1="600.42" x2="1223.97" y2="606.92" stroke="#3a3a3a" stroke-width="1.4"/>
<text x="713.50" y="361.30" font-family="Liberation Sans, sans-serif" stroke-width="0.3" font-size="18.4" fill="#000" stroke="#000">(d) QT01</text>
<text transform="translate(646.90,466.76) rotate(-90)" font-family="Liberation Sans, sans-serif" stroke-width="0.3" font-size="19.5" text-anchor="middle" fill="#000" stroke="#000">ALT (cm)</text>
<text x="1040.70" y="386.90" font-family="Liberation Sans, sans-serif" stroke-width="0.3" font-size="18.4" fill="#2020cc" stroke="#2020cc"><tspan font-style="italic">k</tspan>=1.267</text>
<text x="1040.70" y="407.80" font-family="Liberation Sans, sans-serif" stroke-width="0.3" font-size="18.4" fill="#2020cc" stroke="#2020cc"><tspan font-style="italic">R</tspan>=0.59</text>
<text x="1040.70" y="428.50" font-family="Liberation Sans, sans-serif" stroke-width="0.3" font-size="18.4" fill="#2020cc" stroke="#2020cc"><tspan font-style="italic">p</tspan>&lt;0.01</text>
<text x="1139.50" y="386.90" font-family="Liberation Sans, sans-serif" stroke-width="0.3" font-size="18.4" fill="#dc2c2c" stroke="#dc2c2c"><tspan font-style="italic">k</tspan>=1.485</text>
<text x="1139.50" y="407.80" font-family="Liberation Sans, sans-serif" stroke-width="0.3" font-size="18.4" fill="#dc2c2c" stroke="#dc2c2c"><tspan font-style="italic">R</tspan>=0.65</text>
<text x="1139.50" y="428.50" font-family="Liberation Sans, sans-serif" stroke-width="0.3" font-size="18.4" fill="#dc2c2c" stroke="#dc2c2c"><tspan font-style="italic">p</tspan>&lt;0.001</text>
<polygon points="88.33,711.71 99.95,711.03 111.58,710.34 123.20,709.64 134.83,708.94 146.46,708.22 158.08,707.50 169.71,706.76 181.33,706.02 192.96,705.26 204.59,704.49 216.21,703.70 227.84,702.89 239.47,702.06 251.09,701.21 262.72,700.33 274.34,699.42 285.97,698.49 297.60,697.52 309.22,696.51 320.85,695.47 332.47,694.39 344.10,693.27 355.73,692.11 367.35,690.90 378.98,689.66 390.60,688.38 402.23,687.07 413.86,685.72 425.48,684.35 437.11,682.94 448.73,681.51 460.36,680.06 471.99,678.58 483.61,677.09 495.24,675.58 506.87,674.05 518.49,672.52 530.12,670.97 541.74,669.41 553.37,667.84 565.00,666.26 576.62,664.68 588.25,663.08 599.87,661.49 599.87,689.06 588.25,689.75 576.62,690.44 565.00,691.13 553.37,691.84 541.74,692.55 530.12,693.28 518.49,694.01 506.87,694.76 495.24,695.52 483.61,696.29 471.99,697.08 460.36,697.89 448.73,698.72 437.11,699.57 425.48,700.45 413.86,701.35 402.23,702.29 390.60,703.26 378.98,704.26 367.35,705.30 355.73,706.39 344.10,707.51 332.47,708.67 320.85,709.87 309.22,711.11 297.60,712.39 285.97,713.70 274.34,715.05 262.72,716.43 251.09,717.83 239.47,719.27 227.84,720.72 216.21,722.19 204.59,723.69 192.96,725.20 181.33,726.72 169.71,728.26 158.08,729.81 146.46,731.37 134.83,732.94 123.20,734.51 111.58,736.10 99.95,737.69 88.33,739.29" fill="#d3d3d3"/>
<polyline points="88.33,702.45 111.58,718.48 134.83,710.01 158.08,712.49 181.33,739.87 204.59,739.87 227.84,709.62 251.09,710.79 274.34,717.83 297.60,695.53 320.85,697.23 344.10,712.23 367.35,698.92 390.60,673.76 413.86,678.84 437.11,713.66 460.36,695.14 483.61,696.97 506.87,684.32 530.12,703.75 553.37,695.27 576.62,650.94 599.87,650.94" fill="none" stroke="#8e8e8e" stroke-width="1.1"/>
<circle cx="88.33" cy="702.45" r="5.1" fill="#808080" stroke="#222222" stroke-width="1.5"/>
<circle cx="111.58" cy="718.48" r="5.1" fill="#808080" stroke="#222222" stroke-width="1.5"/>
<circle cx="134.83" cy="710.01" r="5.1" fill="#808080" stroke="#222222" stroke-width="1.5"/>
<circle cx="158.08" cy="712.49" r="5.1" fill="#808080" stroke="#222222" stroke-width="1.5"/>
<circle cx="181.33" cy="739.87" r="5.1" fill="#808080" stroke="#222222" stroke-width="1.5"/>
<circle cx="204.59" cy="739.87" r="5.1" fill="#808080" stroke="#222222" stroke-width="1.5"/>
<circle cx="227.84" cy="709.62" r="5.1" fill="#808080" stroke="#222222" stroke-width="1.5"/>
<circle cx="251.09" cy="710.79" r="5.1" fill="#808080" stroke="#222222" stroke-width="1.5"/>
<circle cx="274.34" cy="717.83" r="5.1" fill="#808080" stroke="#222222" stroke-width="1.5"/>
<circle cx="297.60" cy="695.53" r="5.1" fill="#808080" stroke="#222222" stroke-width="1.5"/>
<circle cx="320.85" cy="697.23" r="5.1" fill="#808080" stroke="#222222" stroke-width="1.5"/>
<circle cx="344.10" cy="712.23" r="5.1" fill="#808080" stroke="#222222" stroke-width="1.5"/>
<circle cx="367.35" cy="698.92" r="5.1" fill="#808080" stroke="#222222" stroke-width="1.5"/>
<circle cx="390.60" cy="673.76" r="5.1" fill="#808080" stroke="#222222" stroke-width="1.5"/>
<circle cx="413.86" cy="678.84" r="5.1" fill="#808080" stroke="#222222" stroke-width="1.5"/>
<circle cx="437.11" cy="713.66" r="5.1" fill="#808080" stroke="#222222" stroke-width="1.5"/>
<circle cx="460.36" cy="695.14" r="5.1" fill="#808080" stroke="#222222" stroke-width="1.5"/>
<circle cx="483.61" cy="696.97" r="5.1" fill="#808080" stroke="#222222" stroke-width="1.5"/>
<circle cx="506.87" cy="684.32" r="5.1" fill="#808080" stroke="#222222" stroke-width="1.5"/>
<circle cx="530.12" cy="703.75" r="5.1" fill="#808080" stroke="#222222" stroke-width="1.5"/>
<circle cx="553.37" cy="695.27" r="5.1" fill="#808080" stroke="#222222" stroke-width="1.5"/>
<circle cx="576.62" cy="650.94" r="5.1" fill="#808080" stroke="#222222" stroke-width="1.5"/>
<circle cx="599.87" cy="650.94" r="5.1" fill="#808080" stroke="#222222" stroke-width="1.5"/>
<line x1="88.33" y1="725.50" x2="599.87" y2="675.27" stroke="#d42424" stroke-width="2.1"/>
<line x1="88.33" y1="723.29" x2="576.62" y2="681.98" stroke="#1616c8" stroke-width="2.1"/>
<circle cx="599.87" cy="650.94" r="10.1" fill="none" stroke="#dc2828" stroke-width="1.7"/>
<rect x="76.70" y="628.90" width="534.80" height="267.32" fill="none" stroke="#555555" stroke-width="1.4"/>
<line x1="70.20" y1="889.70" x2="76.70" y2="889.70" stroke="#3a3a3a" stroke-width="1.4"/>
<text x="62.70" y="895.05" font-family="Liberation Sans, sans-serif" stroke-width="0.3" font-size="15" text-anchor="end" fill="#000" stroke="#000">100</text>
<line x1="70.20" y1="824.50" x2="76.70" y2="824.50" stroke="#3a3a3a" stroke-width="1.4"/>
<text x="62.70" y="829.85" font-family="Liberation Sans, sans-serif" stroke-width="0.3" font-size="15" text-anchor="end" fill="#000" stroke="#000">150</text>
<line x1="70.20" y1="759.30" x2="76.70" y2="759.30" stroke="#3a3a3a" stroke-width="1.4"/>
<text x="62.70" y="764.65" font-family="Liberation Sans, sans-serif" stroke-width="0.3" font-size="15" text-anchor="end" fill="#000" stroke="#000">200</text>
<line x1="70.20" y1="694.10" x2="76.70" y2="694.10" stroke="#3a3a3a" stroke-width="1.4"/>
<text x="62.70" y="699.45" font-family="Liberation Sans, sans-serif" stroke-width="0.3" font-size="15" text-anchor="end" fill="#000" stroke="#000">250</text>
<line x1="70.20" y1="628.90" x2="76.70" y2="628.90" stroke="#3a3a3a" stroke-width="1.4"/>
<text x="62.70" y="634.25" font-family="Liberation Sans, sans-serif" stroke-width="0.3" font-size="15" text-anchor="end" fill="#000" stroke="#000">300</text>
<line x1="88.33" y1="896.22" x2="88.33" y2="902.72" stroke="#3a3a3a" stroke-width="1.4"/>
<text transform="translate(92.33,914.02) rotate(-42)" font-family="Liberation Sans, sans-serif" stroke-width="0.3" font-size="15" text-anchor="end" fill="#000" stroke="#000">2000</text>
<line x1="111.58" y1="896.22" x2="111.58" y2="902.72" stroke="#3a3a3a" stroke-width="1.4"/>
<text transform="translate(115.58,914.02) rotate(-42)" font-family="Liberation Sans, sans-serif" stroke-width="0.3" font-size="15" text-anchor="end" fill="#000" stroke="#000">2001</text>
<line x1="134.83" y1="896.22" x2="134.83" y2="902.72" stroke="#3a3a3a" stroke-width="1.4"/>
<text transform="translate(138.83,914.02) rotate(-42)" font-family="Liberation Sans, sans-serif" stroke-width="0.3" font-size="15" text-anchor="end" fill="#000" stroke="#000">2002</text>
<line x1="158.08" y1="896.22" x2="158.08" y2="902.72" stroke="#3a3a3a" stroke-width="1.4"/>
<text transform="translate(162.08,914.02) rotate(-42)" font-family="Liberation Sans, sans-serif" stroke-width="0.3" font-size="15" text-anchor="end" fill="#000" stroke="#000">2003</text>
<line x1="181.33" y1="896.22" x2="181.33" y2="902.72" stroke="#3a3a3a" stroke-width="1.4"/>
<text transform="translate(185.33,914.02) rotate(-42)" font-family="Liberation Sans, sans-serif" stroke-width="0.3" font-size="15" text-anchor="end" fill="#000" stroke="#000">2004</text>
<line x1="204.59" y1="896.22" x2="204.59" y2="902.72" stroke="#3a3a3a" stroke-width="1.4"/>
<text transform="translate(208.59,914.02) rotate(-42)" font-family="Liberation Sans, sans-serif" stroke-width="0.3" font-size="15" text-anchor="end" fill="#000" stroke="#000">2005</text>
<line x1="227.84" y1="896.22" x2="227.84" y2="902.72" stroke="#3a3a3a" stroke-width="1.4"/>
<text transform="translate(231.84,914.02) rotate(-42)" font-family="Liberation Sans, sans-serif" stroke-width="0.3" font-size="15" text-anchor="end" fill="#000" stroke="#000">2006</text>
<line x1="251.09" y1="896.22" x2="251.09" y2="902.72" stroke="#3a3a3a" stroke-width="1.4"/>
<text transform="translate(255.09,914.02) rotate(-42)" font-family="Liberation Sans, sans-serif" stroke-width="0.3" font-size="15" text-anchor="end" fill="#000" stroke="#000">2007</text>
<line x1="274.34" y1="896.22" x2="274.34" y2="902.72" stroke="#3a3a3a" stroke-width="1.4"/>
<text transform="translate(278.34,914.02) rotate(-42)" font-family="Liberation Sans, sans-serif" stroke-width="0.3" font-size="15" text-anchor="end" fill="#000" stroke="#000">2008</text>
<line x1="297.60" y1="896.22" x2="297.60" y2="902.72" stroke="#3a3a3a" stroke-width="1.4"/>
<text transform="translate(301.60,914.02) rotate(-42)" font-family="Liberation Sans, sans-serif" stroke-width="0.3" font-size="15" text-anchor="end" fill="#000" stroke="#000">2009</text>
<line x1="320.85" y1="896.22" x2="320.85" y2="902.72" stroke="#3a3a3a" stroke-width="1.4"/>
<text transform="translate(324.85,914.02) rotate(-42)" font-family="Liberation Sans, sans-serif" stroke-width="0.3" font-size="15" text-anchor="end" fill="#000" stroke="#000">2010</text>
<line x1="344.10" y1="896.22" x2="344.10" y2="902.72" stroke="#3a3a3a" stroke-width="1.4"/>
<text transform="translate(348.10,914.02) rotate(-42)" font-family="Liberation Sans, sans-serif" stroke-width="0.3" font-size="15" text-anchor="end" fill="#000" stroke="#000">2011</text>
<line x1="367.35" y1="896.22" x2="367.35" y2="902.72" stroke="#3a3a3a" stroke-width="1.4"/>
<text transform="translate(371.35,914.02) rotate(-42)" font-family="Liberation Sans, sans-serif" stroke-width="0.3" font-size="15" text-anchor="end" fill="#000" stroke="#000">2012</text>
<line x1="390.60" y1="896.22" x2="390.60" y2="902.72" stroke="#3a3a3a" stroke-width="1.4"/>
<text transform="translate(394.60,914.02) rotate(-42)" font-family="Liberation Sans, sans-serif" stroke-width="0.3" font-size="15" text-anchor="end" fill="#000" stroke="#000">2013</text>
<line x1="413.86" y1="896.22" x2="413.86" y2="902.72" stroke="#3a3a3a" stroke-width="1.4"/>
<text transform="translate(417.86,914.02) rotate(-42)" font-family="Liberation Sans, sans-serif" stroke-width="0.3" font-size="15" text-anchor="end" fill="#000" stroke="#000">2014</text>
<line x1="437.11" y1="896.22" x2="437.11" y2="902.72" stroke="#3a3a3a" stroke-width="1.4"/>
<text transform="translate(441.11,914.02) rotate(-42)" font-family="Liberation Sans, sans-serif" stroke-width="0.3" font-size="15" text-anchor="end" fill="#000" stroke="#000">2015</text>
<line x1="460.36" y1="896.22" x2="460.36" y2="902.72" stroke="#3a3a3a" stroke-width="1.4"/>
<text transform="translate(464.36,914.02) rotate(-42)" font-family="Liberation Sans, sans-serif" stroke-width="0.3" font-size="15" text-anchor="end" fill="#000" stroke="#000">2016</text>
<line x1="483.61" y1="896.22" x2="483.61" y2="902.72" stroke="#3a3a3a" stroke-width="1.4"/>
<text transform="translate(487.61,914.02) rotate(-42)" font-family="Liberation Sans, sans-serif" stroke-width="0.3" font-size="15" text-anchor="end" fill="#000" stroke="#000">2017</text>
<line x1="506.87" y1="896.22" x2="506.87" y2="902.72" stroke="#3a3a3a" stroke-width="1.4"/>
<text transform="translate(510.87,914.02) rotate(-42)" font-family="Liberation Sans, sans-serif" stroke-width="0.3" font-size="15" text-anchor="end" fill="#000" stroke="#000">2018</text>
<line x1="530.12" y1="896.22" x2="530.12" y2="902.72" stroke="#3a3a3a" stroke-width="1.4"/>
<text transform="translate(534.12,914.02) rotate(-42)" font-family="Liberation Sans, sans-serif" stroke-width="0.3" font-size="15" text-anchor="end" fill="#000" stroke="#000">2019</text>
<line x1="553.37" y1="896.22" x2="553.37" y2="902.72" stroke="#3a3a3a" stroke-width="1.4"/>
<text transform="translate(557.37,914.02) rotate(-42)" font-family="Liberation Sans, sans-serif" stroke-width="0.3" font-size="15" text-anchor="end" fill="#000" stroke="#000">2020</text>
<line x1="576.62" y1="896.22" x2="576.62" y2="902.72" stroke="#3a3a3a" stroke-width="1.4"/>
<text transform="translate(580.62,914.02) rotate(-42)" font-family="Liberation Sans, sans-serif" stroke-width="0.3" font-size="15" text-anchor="end" fill="#000" stroke="#000">2021</text>
<line x1="599.87" y1="896.22" x2="599.87" y2="902.72" stroke="#3a3a3a" stroke-width="1.4"/>
<text transform="translate(603.87,914.02) rotate(-42)" font-family="Liberation Sans, sans-serif" stroke-width="0.3" font-size="15" text-anchor="end" fill="#000" stroke="#000">2022</text>
<text x="90.30" y="657.10" font-family="Liberation Sans, sans-serif" stroke-width="0.3" font-size="18.4" fill="#000" stroke="#000">(e) QT06</text>
<text transform="translate(22.80,762.56) rotate(-90)" font-family="Liberation Sans, sans-serif" stroke-width="0.3" font-size="19.5" text-anchor="middle" fill="#000" stroke="#000">ALT (cm)</text>
<text x="405.70" y="806.60" font-family="Liberation Sans, sans-serif" stroke-width="0.3" font-size="18.4" fill="#2020cc" stroke="#2020cc"><tspan font-style="italic">k</tspan>=1.507</text>
<text x="405.70" y="827.50" font-family="Liberation Sans, sans-serif" stroke-width="0.3" font-size="18.4" fill="#2020cc" stroke="#2020cc"><tspan font-style="italic">R</tspan>=0.64</text>
<text x="405.70" y="848.20" font-family="Liberation Sans, sans-serif" stroke-width="0.3" font-size="18.4" fill="#2020cc" stroke="#2020cc"><tspan font-style="italic">p</tspan>&lt;0.01</text>
<text x="514.00" y="806.60" font-family="Liberation Sans, sans-serif" stroke-width="0.3" font-size="18.4" fill="#dc2c2c" stroke="#dc2c2c"><tspan font-style="italic">k</tspan>=1.749</text>
<text x="514.00" y="827.50" font-family="Liberation Sans, sans-serif" stroke-width="0.3" font-size="18.4" fill="#dc2c2c" stroke="#dc2c2c"><tspan font-style="italic">R</tspan>=0.7</text>
<text x="514.00" y="848.20" font-family="Liberation Sans, sans-serif" stroke-width="0.3" font-size="18.4" fill="#dc2c2c" stroke="#dc2c2c"><tspan font-style="italic">p</tspan>&lt;0.001</text>
<text x="344.10" y="977.8" font-family="Liberation Sans, sans-serif" stroke-width="0.3" font-size="19" text-anchor="middle" fill="#000" stroke="#000">Year</text>
<polygon points="712.43,843.57 724.05,843.26 735.68,842.94 747.30,842.61 758.93,842.28 770.56,841.94 782.18,841.59 793.81,841.23 805.43,840.86 817.06,840.48 828.69,840.09 840.31,839.68 851.94,839.25 863.57,838.81 875.19,838.34 886.82,837.85 898.44,837.33 910.07,836.79 921.70,836.21 933.32,835.60 944.95,834.96 956.57,834.28 968.20,833.57 979.83,832.82 991.45,832.03 1003.08,831.20 1014.70,830.34 1026.33,829.45 1037.96,828.53 1049.58,827.58 1061.21,826.60 1072.83,825.60 1084.46,824.58 1096.09,823.54 1107.71,822.48 1119.34,821.41 1130.97,820.32 1142.59,819.22 1154.22,818.11 1165.84,817.00 1177.47,815.87 1189.10,814.73 1200.72,813.59 1212.35,812.44 1223.97,811.29 1223.97,836.68 1212.35,836.99 1200.72,837.31 1189.10,837.64 1177.47,837.97 1165.84,838.31 1154.22,838.66 1142.59,839.02 1130.97,839.39 1119.34,839.77 1107.71,840.16 1096.09,840.57 1084.46,841.00 1072.83,841.45 1061.21,841.91 1049.58,842.40 1037.96,842.92 1026.33,843.46 1014.70,844.04 1003.08,844.65 991.45,845.29 979.83,845.97 968.20,846.68 956.57,847.43 944.95,848.22 933.32,849.05 921.70,849.91 910.07,850.80 898.44,851.72 886.82,852.67 875.19,853.65 863.57,854.65 851.94,855.67 840.31,856.71 828.69,857.77 817.06,858.84 805.43,859.93 793.81,861.03 782.18,862.14 770.56,863.26 758.93,864.38 747.30,865.52 735.68,866.66 724.05,867.81 712.43,868.96" fill="#d3d3d3"/>
<polyline points="712.43,844.06 735.68,837.02 758.93,834.41 782.18,865.97 805.43,863.10 828.69,857.49 851.94,823.46 875.19,859.45 898.44,854.88 921.70,852.67 944.95,815.50 968.20,858.53 991.45,854.10 1014.70,850.06 1037.96,850.06 1061.21,848.10 1084.46,834.15 1107.71,826.06 1130.97,814.46 1154.22,835.19 1177.47,818.76 1200.72,820.46 1223.97,804.94" fill="none" stroke="#8e8e8e" stroke-width="1.1"/>
<circle cx="712.43" cy="844.06" r="5.1" fill="#808080" stroke="#222222" stroke-width="1.5"/>
<circle cx="735.68" cy="837.02" r="5.1" fill="#808080" stroke="#222222" stroke-width="1.5"/>
<circle cx="758.93" cy="834.41" r="5.1" fill="#808080" stroke="#222222" stroke-width="1.5"/>
<circle cx="782.18" cy="865.97" r="5.1" fill="#808080" stroke="#222222" stroke-width="1.5"/>
<circle cx="805.43" cy="863.10" r="5.1" fill="#808080" stroke="#222222" stroke-width="1.5"/>
<circle cx="828.69" cy="857.49" r="5.1" fill="#808080" stroke="#222222" stroke-width="1.5"/>
<circle cx="851.94" cy="823.46" r="5.1" fill="#808080" stroke="#222222" stroke-width="1.5"/>
<circle cx="875.19" cy="859.45" r="5.1" fill="#808080" stroke="#222222" stroke-width="1.5"/>
<circle cx="898.44" cy="854.88" r="5.1" fill="#808080" stroke="#222222" stroke-width="1.5"/>
<circle cx="921.70" cy="852.67" r="5.1" fill="#808080" stroke="#222222" stroke-width="1.5"/>
<circle cx="944.95" cy="815.50" r="5.1" fill="#808080" stroke="#222222" stroke-width="1.5"/>
<circle cx="968.20" cy="858.53" r="5.1" fill="#808080" stroke="#222222" stroke-width="1.5"/>
<circle cx="991.45" cy="854.10" r="5.1" fill="#808080" stroke="#222222" stroke-width="1.5"/>
<circle cx="1014.70" cy="850.06" r="5.1" fill="#808080" stroke="#222222" stroke-width="1.5"/>
<circle cx="1037.96" cy="850.06" r="5.1" fill="#808080" stroke="#222222" stroke-width="1.5"/>
<circle cx="1061.21" cy="848.10" r="5.1" fill="#808080" stroke="#222222" stroke-width="1.5"/>
<circle cx="1084.46" cy="834.15" r="5.1" fill="#808080" stroke="#222222" stroke-width="1.5"/>
<circle cx="1107.71" cy="826.06" r="5.1" fill="#808080" stroke="#222222" stroke-width="1.5"/>
<circle cx="1130.97" cy="814.46" r="5.1" fill="#808080" stroke="#222222" stroke-width="1.5"/>
<circle cx="1154.22" cy="835.19" r="5.1" fill="#808080" stroke="#222222" stroke-width="1.5"/>
<circle cx="1177.47" cy="818.76" r="5.1" fill="#808080" stroke="#222222" stroke-width="1.5"/>
<circle cx="1200.72" cy="820.46" r="5.1" fill="#808080" stroke="#222222" stroke-width="1.5"/>
<circle cx="1223.97" cy="804.94" r="5.1" fill="#808080" stroke="#222222" stroke-width="1.5"/>
<line x1="712.43" y1="856.27" x2="1223.97" y2="823.98" stroke="#d42424" stroke-width="2.1"/>
<line x1="712.43" y1="854.54" x2="1200.72" y2="828.91" stroke="#1616c8" stroke-width="2.1"/>
<circle cx="1223.97" cy="804.94" r="10.1" fill="none" stroke="#dc2828" stroke-width="1.7"/>
<rect x="700.80" y="628.90" width="534.80" height="267.32" fill="none" stroke="#555555" stroke-width="1.4"/>
<line x1="694.30" y1="889.70" x2="700.80" y2="889.70" stroke="#3a3a3a" stroke-width="1.4"/>
<text x="686.80" y="895.05" font-family="Liberation Sans, sans-serif" stroke-width="0.3" font-size="15" text-anchor="end" fill="#000" stroke="#000">100</text>
<line x1="694.30" y1="824.50" x2="700.80" y2="824.50" stroke="#3a3a3a" stroke-width="1.4"/>
<text x="686.80" y="829.85" font-family="Liberation Sans, sans-serif" stroke-width="0.3" font-size="15" text-anchor="end" fill="#000" stroke="#000">150</text>
<line x1="694.30" y1="759.30" x2="700.80" y2="759.30" stroke="#3a3a3a" stroke-width="1.4"/>
<text x="686.80" y="764.65" font-family="Liberation Sans, sans-serif" stroke-width="0.3" font-size="15" text-anchor="end" fill="#000" stroke="#000">200</text>
<line x1="694.30" y1="694.10" x2="700.80" y2="694.10" stroke="#3a3a3a" stroke-width="1.4"/>
<text x="686.80" y="699.45" font-family="Liberation Sans, sans-serif" stroke-width="0.3" font-size="15" text-anchor="end" fill="#000" stroke="#000">250</text>
<line x1="694.30" y1="628.90" x2="700.80" y2="628.90" stroke="#3a3a3a" stroke-width="1.4"/>
<text x="686.80" y="634.25" font-family="Liberation Sans, sans-serif" stroke-width="0.3" font-size="15" text-anchor="end" fill="#000" stroke="#000">300</text>
<line x1="712.43" y1="896.22" x2="712.43" y2="902.72" stroke="#3a3a3a" stroke-width="1.4"/>
<text transform="translate(716.43,914.02) rotate(-42)" font-family="Liberation Sans, sans-serif" stroke-width="0.3" font-size="15" text-anchor="end" fill="#000" stroke="#000">2000</text>
<line x1="735.68" y1="896.22" x2="735.68" y2="902.72" stroke="#3a3a3a" stroke-width="1.4"/>
<text transform="translate(739.68,914.02) rotate(-42)" font-family="Liberation Sans, sans-serif" stroke-width="0.3" font-size="15" text-anchor="end" fill="#000" stroke="#000">2001</text>
<line x1="758.93" y1="896.22" x2="758.93" y2="902.72" stroke="#3a3a3a" stroke-width="1.4"/>
<text transform="translate(762.93,914.02) rotate(-42)" font-family="Liberation Sans, sans-serif" stroke-width="0.3" font-size="15" text-anchor="end" fill="#000" stroke="#000">2002</text>
<line x1="782.18" y1="896.22" x2="782.18" y2="902.72" stroke="#3a3a3a" stroke-width="1.4"/>
<text transform="translate(786.18,914.02) rotate(-42)" font-family="Liberation Sans, sans-serif" stroke-width="0.3" font-size="15" text-anchor="end" fill="#000" stroke="#000">2003</text>
<line x1="805.43" y1="896.22" x2="805.43" y2="902.72" stroke="#3a3a3a" stroke-width="1.4"/>
<text transform="translate(809.43,914.02) rotate(-42)" font-family="Liberation Sans, sans-serif" stroke-width="0.3" font-size="15" text-anchor="end" fill="#000" stroke="#000">2004</text>
<line x1="828.69" y1="896.22" x2="828.69" y2="902.72" stroke="#3a3a3a" stroke-width="1.4"/>
<text transform="translate(832.69,914.02) rotate(-42)" font-family="Liberation Sans, sans-serif" stroke-width="0.3" font-size="15" text-anchor="end" fill="#000" stroke="#000">2005</text>
<line x1="851.94" y1="896.22" x2="851.94" y2="902.72" stroke="#3a3a3a" stroke-width="1.4"/>
<text transform="translate(855.94,914.02) rotate(-42)" font-family="Liberation Sans, sans-serif" stroke-width="0.3" font-size="15" text-anchor="end" fill="#000" stroke="#000">2006</text>
<line x1="875.19" y1="896.22" x2="875.19" y2="902.72" stroke="#3a3a3a" stroke-width="1.4"/>
<text transform="translate(879.19,914.02) rotate(-42)" font-family="Liberation Sans, sans-serif" stroke-width="0.3" font-size="15" text-anchor="end" fill="#000" stroke="#000">2007</text>
<line x1="898.44" y1="896.22" x2="898.44" y2="902.72" stroke="#3a3a3a" stroke-width="1.4"/>
<text transform="translate(902.44,914.02) rotate(-42)" font-family="Liberation Sans, sans-serif" stroke-width="0.3" font-size="15" text-anchor="end" fill="#000" stroke="#000">2008</text>
<line x1="921.70" y1="896.22" x2="921.70" y2="902.72" stroke="#3a3a3a" stroke-width="1.4"/>
<text transform="translate(925.70,914.02) rotate(-42)" font-family="Liberation Sans, sans-serif" stroke-width="0.3" font-size="15" text-anchor="end" fill="#000" stroke="#000">2009</text>
<line x1="944.95" y1="896.22" x2="944.95" y2="902.72" stroke="#3a3a3a" stroke-width="1.4"/>
<text transform="translate(948.95,914.02) rotate(-42)" font-family="Liberation Sans, sans-serif" stroke-width="0.3" font-size="15" text-anchor="end" fill="#000" stroke="#000">2010</text>
<line x1="968.20" y1="896.22" x2="968.20" y2="902.72" stroke="#3a3a3a" stroke-width="1.4"/>
<text transform="translate(972.20,914.02) rotate(-42)" font-family="Liberation Sans, sans-serif" stroke-width="0.3" font-size="15" text-anchor="end" fill="#000" stroke="#000">2011</text>
<line x1="991.45" y1="896.22" x2="991.45" y2="902.72" stroke="#3a3a3a" stroke-width="1.4"/>
<text transform="translate(995.45,914.02) rotate(-42)" font-family="Liberation Sans, sans-serif" stroke-width="0.3" font-size="15" text-anchor="end" fill="#000" stroke="#000">2012</text>
<line x1="1014.70" y1="896.22" x2="1014.70" y2="902.72" stroke="#3a3a3a" stroke-width="1.4"/>
<text transform="translate(1018.70,914.02) rotate(-42)" font-family="Liberation Sans, sans-serif" stroke-width="0.3" font-size="15" text-anchor="end" fill="#000" stroke="#000">2013</text>
<line x1="1037.96" y1="896.22" x2="1037.96" y2="902.72" stroke="#3a3a3a" stroke-width="1.4"/>
<text transform="translate(1041.96,914.02) rotate(-42)" font-family="Liberation Sans, sans-serif" stroke-width="0.3" font-size="15" text-anchor="end" fill="#000" stroke="#000">2014</text>
<line x1="1061.21" y1="896.22" x2="1061.21" y2="902.72" stroke="#3a3a3a" stroke-width="1.4"/>
<text transform="translate(1065.21,914.02) rotate(-42)" font-family="Liberation Sans, sans-serif" stroke-width="0.3" font-size="15" text-anchor="end" fill="#000" stroke="#000">2015</text>
<line x1="1084.46" y1="896.22" x2="1084.46" y2="902.72" stroke="#3a3a3a" stroke-width="1.4"/>
<text transform="translate(1088.46,914.02) rotate(-42)" font-family="Liberation Sans, sans-serif" stroke-width="0.3" font-size="15" text-anchor="end" fill="#000" stroke="#000">2016</text>
<line x1="1107.71" y1="896.22" x2="1107.71" y2="902.72" stroke="#3a3a3a" stroke-width="1.4"/>
<text transform="translate(1111.71,914.02) rotate(-42)" font-family="Liberation Sans, sans-serif" stroke-width="0.3" font-size="15" text-anchor="end" fill="#000" stroke="#000">2017</text>
<line x1="1130.97" y1="896.22" x2="1130.97" y2="902.72" stroke="#3a3a3a" stroke-width="1.4"/>
<text transform="translate(1134.97,914.02) rotate(-42)" font-family="Liberation Sans, sans-serif" stroke-width="0.3" font-size="15" text-anchor="end" fill="#000" stroke="#000">2018</text>
<line x1="1154.22" y1="896.22" x2="1154.22" y2="902.72" stroke="#3a3a3a" stroke-width="1.4"/>
<text transform="translate(1158.22,914.02) rotate(-42)" font-family="Liberation Sans, sans-serif" stroke-width="0.3" font-size="15" text-anchor="end" fill="#000" stroke="#000">2019</text>
<line x1="1177.47" y1="896.22" x2="1177.47" y2="902.72" stroke="#3a3a3a" stroke-width="1.4"/>
<text transform="translate(1181.47,914.02) rotate(-42)" font-family="Liberation Sans, sans-serif" stroke-width="0.3" font-size="15" text-anchor="end" fill="#000" stroke="#000">2020</text>
<line x1="1200.72" y1="896.22" x2="1200.72" y2="902.72" stroke="#3a3a3a" stroke-width="1.4"/>
<text transform="translate(1204.72,914.02) rotate(-42)" font-family="Liberation Sans, sans-serif" stroke-width="0.3" font-size="15" text-anchor="end" fill="#000" stroke="#000">2021</text>
<line x1="1223.97" y1="896.22" x2="1223.97" y2="902.72" stroke="#3a3a3a" stroke-width="1.4"/>
<text transform="translate(1227.97,914.02) rotate(-42)" font-family="Liberation Sans, sans-serif" stroke-width="0.3" font-size="15" text-anchor="end" fill="#000" stroke="#000">2022</text>
<text x="713.50" y="657.10" font-family="Liberation Sans, sans-serif" stroke-width="0.3" font-size="18.4" fill="#000" stroke="#000">(f) QT09</text>
<text transform="translate(646.90,762.56) rotate(-90)" font-family="Liberation Sans, sans-serif" stroke-width="0.3" font-size="19.5" text-anchor="middle" fill="#000" stroke="#000">ALT (cm)</text>
<text x="1040.70" y="686.60" font-family="Liberation Sans, sans-serif" stroke-width="0.3" font-size="18.4" fill="#2020cc" stroke="#2020cc"><tspan font-style="italic">k</tspan>=0.936</text>
<text x="1040.70" y="707.50" font-family="Liberation Sans, sans-serif" stroke-width="0.3" font-size="18.4" fill="#2020cc" stroke="#2020cc"><tspan font-style="italic">R</tspan>=0.48</text>
<text x="1040.70" y="728.20" font-family="Liberation Sans, sans-serif" stroke-width="0.3" font-size="18.4" fill="#2020cc" stroke="#2020cc"><tspan font-style="italic">p</tspan>&lt;0.05</text>
<text x="1139.50" y="686.60" font-family="Liberation Sans, sans-serif" stroke-width="0.3" font-size="18.4" fill="#dc2c2c" stroke="#dc2c2c"><tspan font-style="italic">k</tspan>=1.123</text>
<text x="1139.50" y="707.50" font-family="Liberation Sans, sans-serif" stroke-width="0.3" font-size="18.4" fill="#dc2c2c" stroke="#dc2c2c"><tspan font-style="italic">R</tspan>=0.56</text>
<text x="1139.50" y="728.20" font-family="Liberation Sans, sans-serif" stroke-width="0.3" font-size="18.4" fill="#dc2c2c" stroke="#dc2c2c"><tspan font-style="italic">p</tspan>&lt;0.01</text>
<text x="968.20" y="977.8" font-family="Liberation Sans, sans-serif" stroke-width="0.3" font-size="19" text-anchor="middle" fill="#000" stroke="#000">Year</text>
<line x1="95.9" y1="90.7" x2="135.6" y2="90.7" stroke="#d42424" stroke-width="2.0"/>
<line x1="95.9" y1="109.7" x2="135.6" y2="109.7" stroke="#1616c8" stroke-width="2.0"/>
<rect x="96.4" y="121.7" width="38.7" height="13.3" fill="#d3d3d3" stroke="#2a2a2a" stroke-width="1.5"/>
<text x="144.5" y="96.9" font-family="Liberation Sans, sans-serif" stroke-width="0.3" font-size="17" fill="#000" stroke="#000">Fitting line for 2000-2022</text>
<text x="144.5" y="115.6" font-family="Liberation Sans, sans-serif" stroke-width="0.3" font-size="17" fill="#000" stroke="#000">Fitting line for 2000-2021</text>
<text x="144.5" y="134.3" font-family="Liberation Sans, sans-serif" stroke-width="0.3" font-size="17" fill="#000" stroke="#000">95% Confidence interval</text>
</svg>
</body></html>
